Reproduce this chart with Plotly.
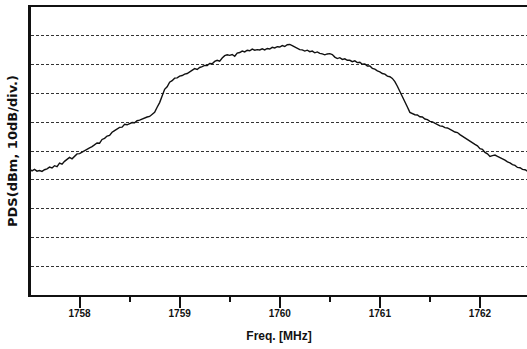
import numpy as np
import plotly.graph_objects as go

# Spectrum analyser sweep: start frequency and bin spacing (MHz)
freq_start = 1757.5
freq_step = 0.025

# Measured power spectral density, relative level in dB (10 dB/div)
level = [
    -56.3, -56.9, -56.4, -57.0, -56.8, -57.1, -56.5, -56.2, -55.6, -55.9,
    -55.1, -55.4, -54.2, -54.6, -53.6, -53.0, -52.2, -52.7, -51.9, -51.0,
    -50.9, -50.4, -49.9, -49.1, -48.9, -48.5, -48.0, -47.2, -47.3, -46.0,
    -45.6, -44.8, -44.6, -43.5, -42.9, -42.4, -41.8, -41.7, -40.7, -40.9,
    -40.4, -40.1, -40.2, -39.5, -39.3, -38.9, -38.7, -38.2, -38.0, -37.4,
    -36.6, -34.8, -33.2, -30.9, -28.6, -27.7, -26.1, -25.6, -24.7, -24.6,
    -24.0, -23.8, -23.3, -23.1, -22.5, -22.2, -21.4, -21.7, -21.0, -20.7,
    -20.3, -20.3, -19.6, -19.7, -18.9, -18.5, -18.8, -17.7, -16.9, -16.6,
    -16.8, -16.5, -17.1, -16.0, -15.8, -15.3, -15.6, -15.0, -15.2, -14.6,
    -15.0, -14.8, -14.9, -14.5, -14.9, -14.4, -14.6, -14.0, -14.2, -13.8,
    -13.9, -13.4, -13.7, -13.1, -13.0, -13.4, -13.9, -14.3, -14.8, -14.9,
    -15.3, -15.0, -15.5, -15.3, -15.9, -15.6, -16.1, -16.3, -16.6, -16.3,
    -16.2, -16.5, -17.4, -17.9, -17.6, -18.2, -18.0, -18.5, -18.5, -19.0,
    -18.7, -19.3, -19.2, -19.9, -19.8, -20.5, -20.5, -21.3, -21.6, -22.2,
    -22.5, -23.1, -23.3, -24.0, -24.2, -24.8, -25.9, -27.5, -29.2, -30.9,
    -32.8, -34.7, -36.6, -37.0, -37.4, -37.5, -38.1, -38.2, -38.9, -39.1,
    -39.7, -39.9, -40.4, -40.7, -41.3, -41.4, -41.9, -42.0, -42.6, -42.9,
    -43.4, -43.6, -44.3, -44.9, -45.5, -46.0, -46.8, -47.2, -47.7, -48.2,
    -49.2, -49.4, -50.5, -51.0, -51.9, -51.6, -51.4, -51.9, -52.3, -52.9,
    -53.2, -53.8, -54.1, -54.7, -55.0, -55.7, -55.8, -56.4, -56.5, -57.0,
]

x_ticks = [1758, 1759, 1760, 1761, 1762]
x_tick_labels = ["1758", "1759", "1760", "1761", "1762"]

freq = freq_start + freq_step * np.arange(len(level))

fig = go.Figure()
fig.add_trace(go.Scatter(
    x=freq, y=level, mode="lines",
    line=dict(color="#111111", width=1.4),
    hoverinfo="skip", showlegend=False,
))

fig.update_layout(
    width=527, height=349,
    margin=dict(l=31, r=0, t=7, b=54),
    paper_bgcolor="white", plot_bgcolor="white",
    font=dict(family="Liberation Sans, Arial, sans-serif", color="#111111"),
    xaxis=dict(
        range=[1757.515, 1762.47],
        tickmode="array", tickvals=x_ticks, ticktext=x_tick_labels,
        ticks="outside", ticklen=11, tickwidth=2, tickcolor="#111111",
        tickfont=dict(size=10, weight="bold"),
        ticklabelstandoff=-3,
        minor=dict(dtick=0.5, tick0=1757.5, ticks="outside", ticklen=5,
                   tickwidth=2, tickcolor="#111111", showgrid=False),
        showline=True, linecolor="#111111", linewidth=2, mirror=True,
        showgrid=False, zeroline=False,
        title=dict(text="Freq. [MHz]", font=dict(size=12, weight="bold"),
                   standoff=14),
    ),
    yaxis=dict(
        range=[-100, 0], dtick=10, tick0=0,
        showticklabels=False, ticks="",
        showline=True, linecolor="#111111", linewidth=2.5,
        showgrid=True, gridcolor="#333333", gridwidth=1, griddash="3px,2px",
        zeroline=False,
        title=dict(text="PDS(dBm, 10dB/div.)",
                   font=dict(family="DejaVu Sans, sans-serif", size=13,
                             weight="bold"),
                   standoff=8),
    ),
)

fig.write_html("out.html")
